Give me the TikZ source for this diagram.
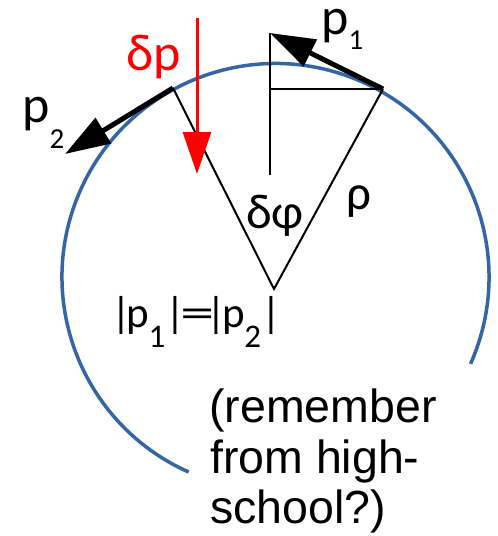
\documentclass[tikz,border=0pt]{standalone}
\usepackage{fontspec}
\setmainfont{Liberation Sans}
\newfontfamily\lab{Carlito}
\usetikzlibrary{arrows.meta}
\definecolor{circblue}{RGB}{52,101,164}
\definecolor{redarrow}{RGB}{255,0,0}
\newcommand\lowsub[3]{\raisebox{#1}{\fontsize{#2}{#2}\selectfont #3}}
\tikzset{
  geo/.style={line width=2pt, black},
  momentum/.style={line width=5pt, black, -{Triangle[length=45pt,width=29pt]}},
  change/.style={line width=3pt, redarrow, -{Triangle[length=42pt,width=28pt]}},
  lbl/.style={inner sep=0pt, anchor=base west, font=\lab\fontsize{52}{54}\selectfont},
  note/.style={inner sep=0pt, anchor=base west, font=\fontsize{46.5}{51}\selectfont}
}
\begin{document}
\begin{tikzpicture}[x=1pt,y=-1pt]
\useasboundingbox (0,0) rectangle (498,536);
% key points
\coordinate (C) at (275.5,277);
\coordinate (O) at (274,289);
\coordinate (A) at (173,88);
\coordinate (B) at (383,89);
\coordinate (H) at (270,89);
\coordinate (T) at (270,33);
\coordinate (V) at (270,175);
\coordinate (P2) at (65,154);
\coordinate (R1) at (197,18);
\coordinate (R2) at (197,174);
% circle arc
\draw[circblue, line width=3.5pt] ([shift={(-24:213.5pt)}]C) arc[start angle=-24, end angle=246, radius=213.5pt];
% triangle and construction lines
\draw[geo] (A) -- (O) -- (B);
\draw[geo, line width=2.5pt] (V) -- (T);
\draw[geo, line width=2.5pt] (H) -- (B);
% momentum arrows
\draw[momentum] (B) -- (T);
\draw[momentum] (A) -- (P2);
% change of momentum
\draw[change] (R1) -- (R2);
% labels
\node[lbl, text=redarrow] (dp) at (126,70) {δp};
\node[lbl, text height=25pt] (p1) at (321,34) {p\kern0pt\lowsub{-15pt}{29}{1}};
\node[lbl] (p2) at (22,122) {p\kern0pt\lowsub{-26pt}{29}{2}};
\node[lbl, font=\lab\fontsize{49}{52}\selectfont] (dphi) at (246,228) {δφ};
\node[lbl, font=\lab\fontsize{49}{52}\selectfont] (rho) at (346,209) {ρ};
\node[lbl, font=\lab\fontsize{43}{46}\selectfont] (eq) at (111,327)
  {|\kern-4pt p\kern-1pt\lowsub{-20pt}{33}{1}|\kern-5pt\scalebox{1.6}[1]{=}\kern-7.4pt|\kern-4pt p\kern-1pt\lowsub{-20pt}{33}{2}|};
\node[note] (t1) at (209,422) {(remember};
\node[note] (t2) at (210,473) {from high-};
\node[note] (t3) at (210,523) {school?)};
\end{tikzpicture}
\end{document}
